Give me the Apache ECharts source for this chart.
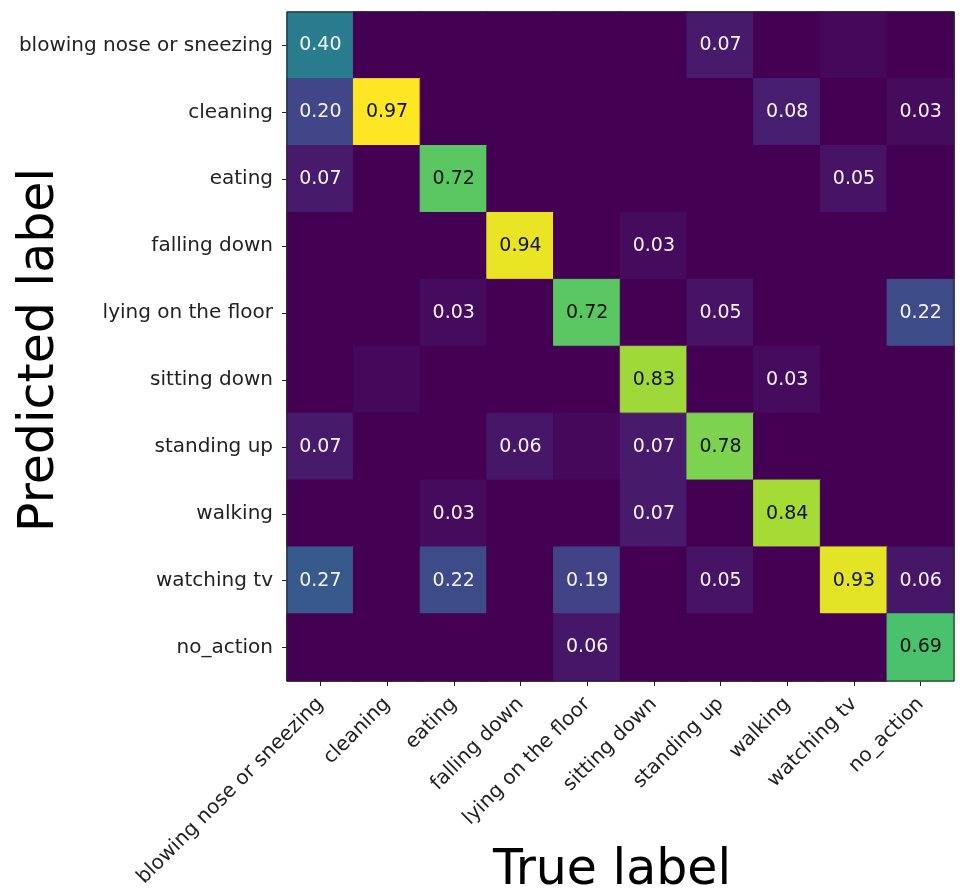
<!DOCTYPE html>
<html>
<head>
<meta charset="utf-8">
<script src="https://cdn.jsdelivr.net/npm/echarts@6/dist/echarts.min.js"></script>
<style>
  html, body { margin: 0; padding: 0; background: #ffffff; }
  #chart { width: 960px; height: 895px; }
</style>
</head>
<body>
<div id="chart"></div>
<script>
// Class names shared by both axes
const classes = [
  'blowing nose or sneezing', 'cleaning', 'eating', 'falling down',
  'lying on the floor', 'sitting down', 'standing up', 'walking',
  'watching tv', 'no_action'
];

// Axis titles
const xTitle = 'True label';
const yTitle = 'Predicted label';

// Normalised confusion matrix: one row per predicted label, one column per true label
const rowBlowing  = [0.40, 0.00, 0.00, 0.00, 0.00, 0.00, 0.07, 0.00, 0.02, 0.00];
const rowCleaning = [0.20, 0.97, 0.00, 0.00, 0.00, 0.00, 0.00, 0.08, 0.00, 0.03];
const rowEating   = [0.07, 0.00, 0.72, 0.00, 0.00, 0.00, 0.00, 0.00, 0.05, 0.00];
const rowFalling  = [0.00, 0.00, 0.00, 0.94, 0.00, 0.03, 0.00, 0.00, 0.00, 0.00];
const rowLying    = [0.00, 0.00, 0.03, 0.00, 0.72, 0.00, 0.05, 0.00, 0.00, 0.22];
const rowSitting  = [0.00, 0.02, 0.00, 0.00, 0.00, 0.83, 0.00, 0.03, 0.00, 0.00];
const rowStanding = [0.07, 0.00, 0.00, 0.06, 0.02, 0.07, 0.78, 0.00, 0.00, 0.00];
const rowWalking  = [0.00, 0.00, 0.03, 0.00, 0.00, 0.07, 0.00, 0.84, 0.00, 0.00];
const rowWatching = [0.27, 0.00, 0.22, 0.00, 0.19, 0.00, 0.05, 0.00, 0.93, 0.06];
const rowNoAction = [0.00, 0.00, 0.00, 0.00, 0.06, 0.00, 0.00, 0.00, 0.00, 0.69];

const matrix = [rowBlowing, rowCleaning, rowEating, rowFalling, rowLying,
                rowSitting, rowStanding, rowWalking, rowWatching, rowNoAction];

// Viridis colour ramp
const viridis = ['#440154', '#482475', '#414487', '#355f8d', '#2a788e', '#21918c',
                 '#22a884', '#44bf70', '#7ad151', '#bddf26', '#fde725'];

const vmax = Math.max(...matrix.flat());
const threshold = vmax / 2;

// Each cell gets its viridis colour (fill and matching edge, so neighbouring
// cells meet without seams) and dark or light text depending on brightness.
const cells = [];
matrix.forEach((row, r) => {
  row.forEach((v, c) => {
    const col = echarts.color.lerp(v / vmax, viridis);
    cells.push({
      value: [c, r, v],
      itemStyle: { color: col, borderColor: col, borderWidth: 1 },
      label: { color: v > threshold ? '#111111' : '#f4f4f4' }
    });
  });
});

const font = 'DejaVu Sans';
const chart = echarts.init(document.getElementById('chart'), null, { renderer: 'canvas' });

chart.setOption({
  backgroundColor: '#ffffff',
  animation: false,
  grid: {
    left: 287, top: 12, width: 667, height: 669,
    outerBoundsMode: 'none',
    containLabel: false,
    show: true, borderColor: '#222222', borderWidth: 1, backgroundColor: 'transparent',
    z: 10
  },
  xAxis: {
    type: 'category',
    data: classes,
    axisLine: { show: false },
    axisTick: { show: true, alignWithLabel: true, length: 5, lineStyle: { color: '#222222' } },
    axisLabel: { rotate: 45, fontFamily: font, fontSize: 20, color: '#222222', margin: 20, interval: 0 },
    splitLine: { show: false },
    splitArea: { show: false }
  },
  yAxis: {
    type: 'category',
    data: classes,
    inverse: true,
    axisLine: { show: false },
    axisTick: { show: true, alignWithLabel: true, length: 5, lineStyle: { color: '#222222' } },
    axisLabel: { fontFamily: font, fontSize: 20, color: '#222222', margin: 14, interval: 0 },
    splitLine: { show: false },
    splitArea: { show: false }
  },
  graphic: [
    {
      type: 'text',
      x: 612, y: 871,
      style: { text: xTitle, fontFamily: font, fontSize: 49, fill: '#000000',
               align: 'center', verticalAlign: 'middle' }
    },
    {
      type: 'text',
      x: 40, y: 350,
      rotation: Math.PI / 2,
      style: { text: yTitle, fontFamily: font, fontSize: 49, fill: '#000000',
               align: 'center', verticalAlign: 'middle' }
    }
  ],
  series: [{
    type: 'heatmap',
    data: cells,
    label: {
      show: true,
      fontFamily: font,
      fontSize: 19,
      formatter: p => (p.value[2] >= 0.025 ? p.value[2].toFixed(2) : '')
    },
    emphasis: { disabled: true }
  }]
});
</script>
</body>
</html>
